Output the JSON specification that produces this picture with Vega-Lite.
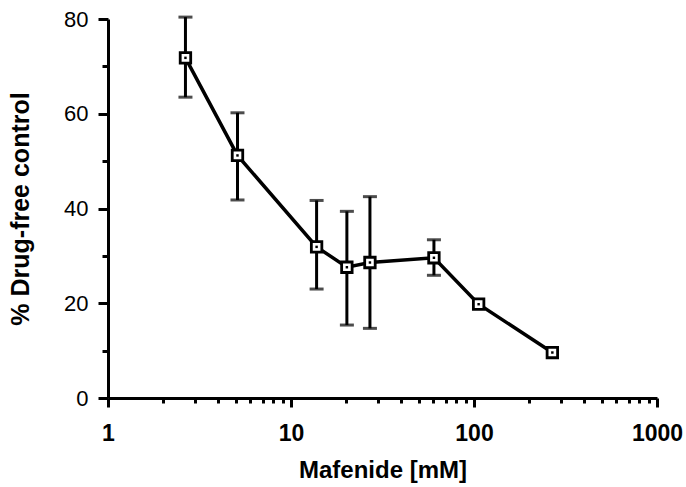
{
  "$schema": "https://vega.github.io/schema/vega-lite/v6.json",
  "autosize": "none",
  "width": 549,
  "height": 379,
  "padding": {"left": 108, "top": 19, "right": 29, "bottom": 89},
  "background": "white",
  "config": {
    "view": {"stroke": null},
    "font": "Liberation Sans",
    "axis": {"grid": false, "domainColor": "black", "tickColor": "black", "labelColor": "black", "titleColor": "black", "domainWidth": 3, "tickWidth": 3}
  },
  "data": {"values": [
    {"conc": 2.65, "pct": 71.8, "lo": 63.5, "hi": 80.4},
    {"conc": 5.1, "pct": 51.2, "lo": 41.8, "hi": 60.2},
    {"conc": 13.8, "pct": 31.9, "lo": 23.0, "hi": 41.7},
    {"conc": 20.2, "pct": 27.6, "lo": 15.4, "hi": 39.4},
    {"conc": 27.0, "pct": 28.6, "lo": 14.7, "hi": 42.5},
    {"conc": 60.4, "pct": 29.6, "lo": 25.9, "hi": 33.4},
    {"conc": 106, "pct": 19.8, "lo": null, "hi": null},
    {"conc": 268, "pct": 9.6, "lo": null, "hi": null}
  ]},
  "encoding": {
    "x": {
      "field": "conc", "type": "quantitative",
      "scale": {"type": "log", "domain": [1, 1000], "nice": false},
      "axis": {
        "title": "Mafenide [mM]",
        "titleFontSize": 24, "titleFontWeight": "bold", "titlePadding": 13,
        "values": [1,2,3,4,5,6,7,8,9,10,20,30,40,50,60,70,80,90,100,200,300,400,500,600,700,800,900,1000],
        "labelExpr": "(datum.value == 1 || datum.value == 10 || datum.value == 100 || datum.value == 1000) ? format(datum.value, 'd') : ''",
        "labelFontSize": 23, "labelFontWeight": "bold", "labelPadding": 15, "labelOverlap": false, "labelFlush": false,
        "tickSize": {"condition": {"test": "datum.value == 1 || datum.value == 10 || datum.value == 100 || datum.value == 1000", "value": 9}, "value": 5}
      }
    },
    "y": {
      "field": "pct", "type": "quantitative",
      "scale": {"domain": [0, 80], "nice": false},
      "axis": {
        "title": "% Drug-free control",
        "titleFontSize": 25, "titleFontWeight": "bold", "titlePadding": 30,
        "values": [0,10,20,30,40,50,60,70,80],
        "labelExpr": "datum.value % 20 == 0 ? format(datum.value, 'd') : ''",
        "labelFontSize": 22, "labelPadding": 10, "labelOverlap": false,
        "tickSize": {"condition": {"test": "datum.value % 20 == 0", "value": 10}, "value": 6}
      }
    }
  },
  "layer": [
    {
      "transform": [{"filter": "isValid(datum.lo)"}],
      "mark": {"type": "rule", "color": "black", "strokeWidth": 3},
      "encoding": {"y": {"field": "lo", "type": "quantitative"}, "y2": {"field": "hi"}}
    },
    {
      "transform": [{"filter": "isValid(datum.lo)"}],
      "mark": {"type": "tick", "color": "black", "thickness": 3, "size": 14, "orient": "horizontal"},
      "encoding": {"y": {"field": "lo", "type": "quantitative"}}
    },
    {
      "transform": [{"filter": "isValid(datum.hi)"}],
      "mark": {"type": "tick", "color": "black", "thickness": 3, "size": 14, "orient": "horizontal"},
      "encoding": {"y": {"field": "hi", "type": "quantitative"}}
    },
    {
      "mark": {"type": "line", "color": "black", "strokeWidth": 3.5},
      "encoding": {}
    },
    {
      "mark": {"type": "point", "shape": "square", "filled": false, "fill": "white", "fillOpacity": 1, "stroke": "black", "strokeWidth": 2.8, "size": 110, "opacity": 1},
      "encoding": {}
    },
    {
      "mark": {"type": "point", "shape": "square", "filled": true, "color": "black", "size": 6, "opacity": 1},
      "encoding": {}
    }
  ]
}
